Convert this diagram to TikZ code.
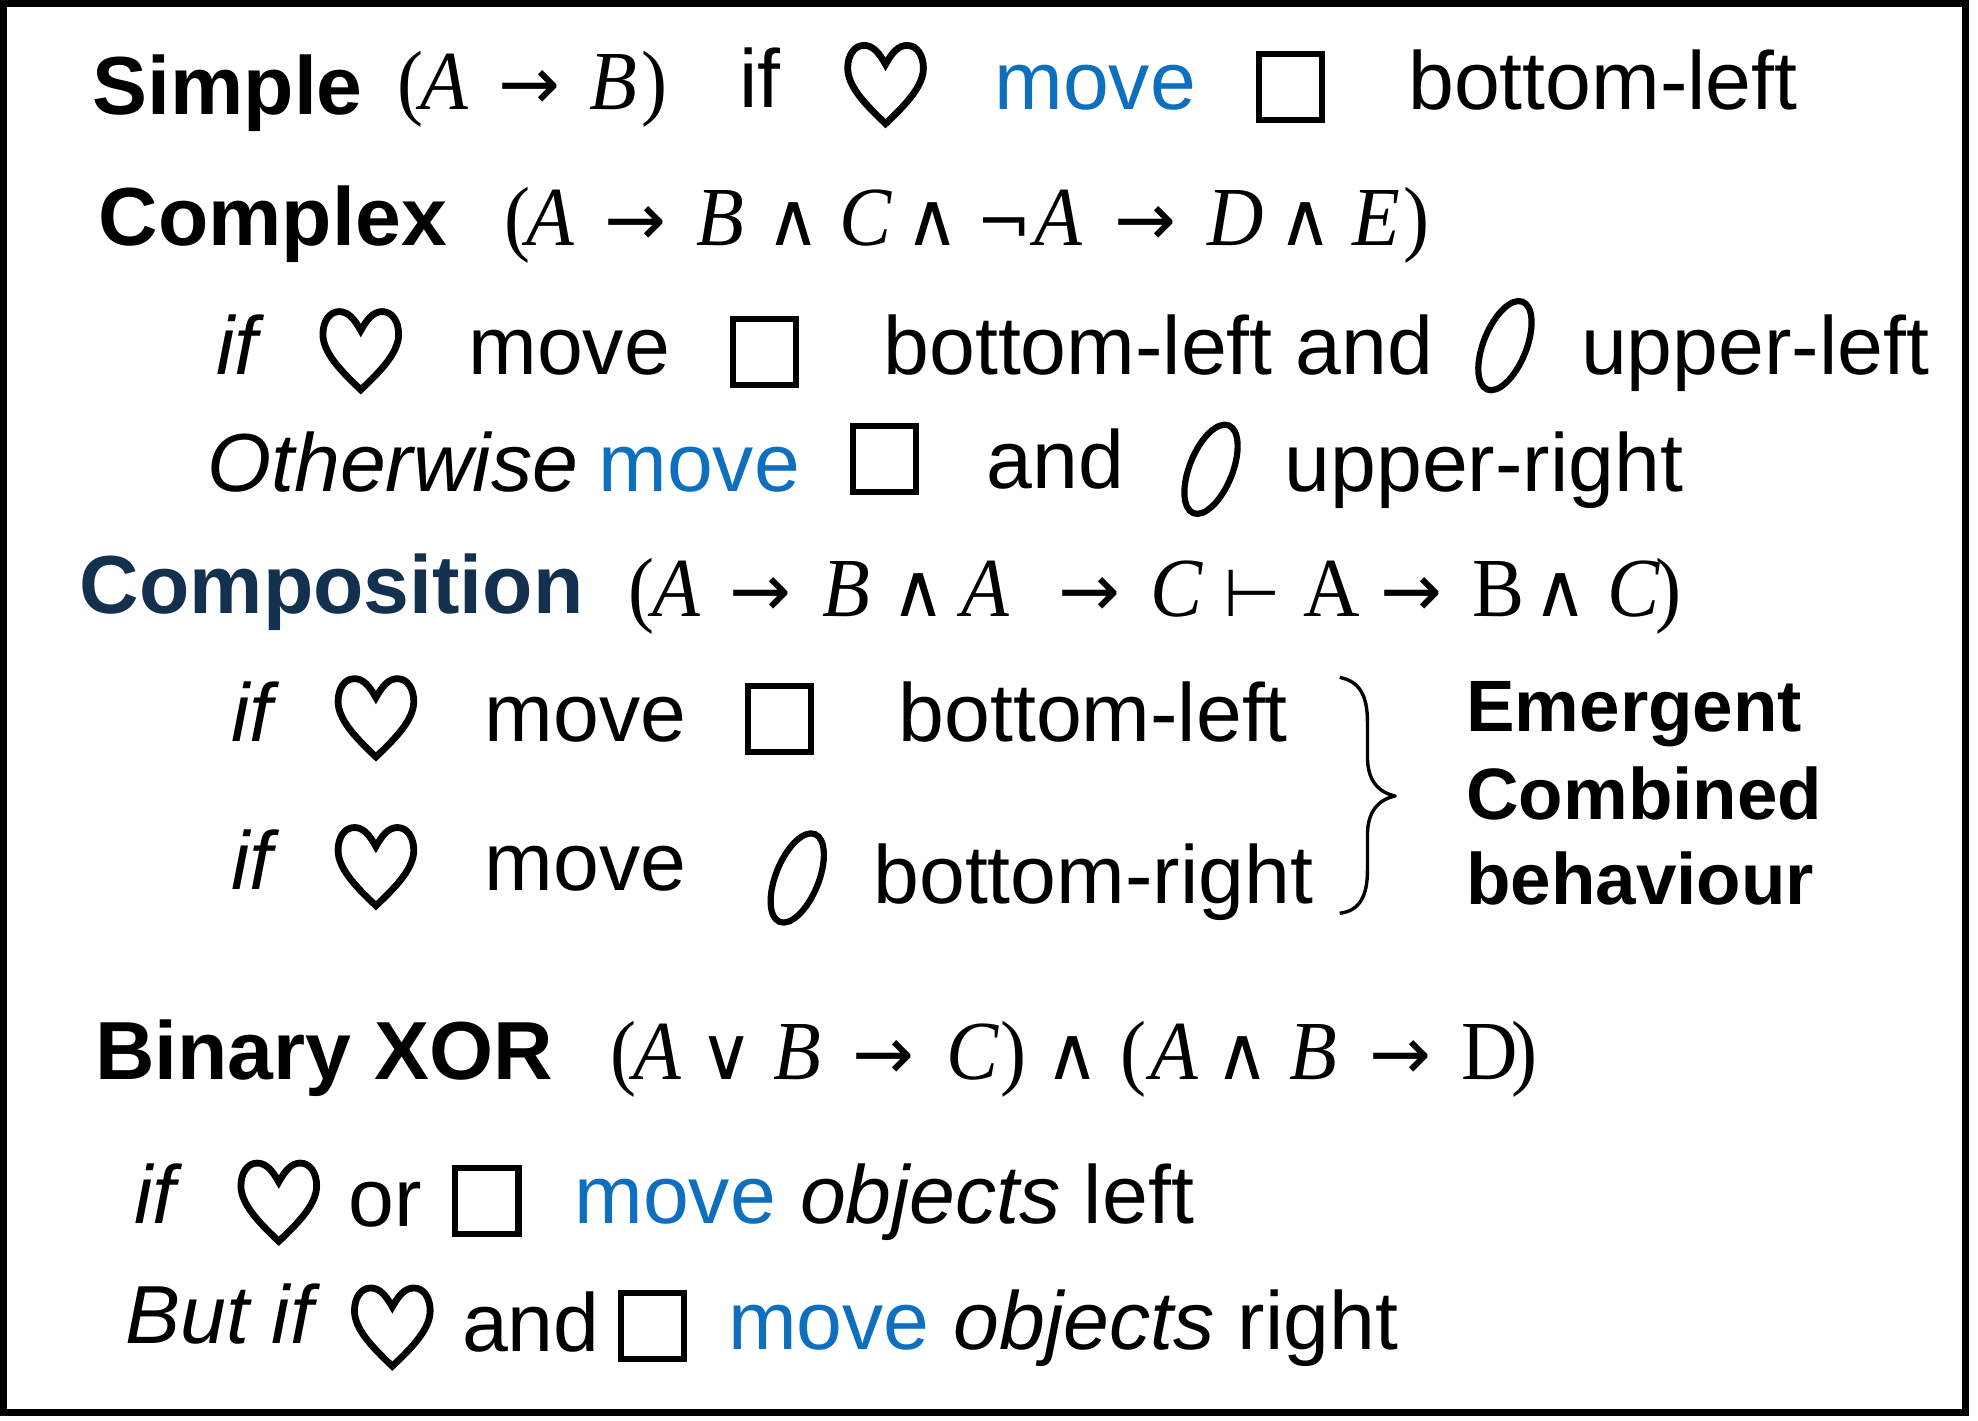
\documentclass[tikz,border=0pt]{standalone}
\usepackage{fontspec}
\setmainfont{Liberation Sans}
\newfontfamily\serifmath[FakeStretch=0.93]{Liberation Serif}
\newfontfamily\symfont{DejaVu Sans}
\definecolor{moveblue}{HTML}{0F6FBF}
\definecolor{navy}{HTML}{14304F}
\newcommand{\bigsize}{\fontsize{41.2}{48}\selectfont}
\newcommand{\boldhead}{\fontsize{41.2}{48}\selectfont\bfseries}
\newcommand{\boldside}{\fontsize{36.4}{42}\selectfont\bfseries}
\newcommand{\mathsize}{\fontsize{42}{48}\selectfont}
\tikzset{
  txt/.style={anchor=base west,inner sep=0pt,font=\bigsize,xshift=-0.6pt},
  head/.style={anchor=base west,inner sep=0pt,font=\boldhead,xshift=-0.6pt},
  side/.style={anchor=base west,inner sep=0pt,font=\boldside,xshift=-0.6pt},
  ml/.style={anchor=base west,inner sep=0pt,font=\mathsize\serifmath\itshape},
  mr/.style={anchor=base west,inner sep=0pt,font=\mathsize\serifmath},
  sy/.style={anchor=base,inner sep=0pt,font=\fontsize{37}{42}\selectfont\symfont},
  sn/.style={anchor=base,inner sep=0pt,font=\fontsize{33}{40}\selectfont\symfont},
  glyph/.style={draw=black,line width=3.1pt,fill=none,line join=miter},
}
\newcommand{\hrt}[2]{%
  \draw[glyph,line width=3.4pt,shift={(#1,#2)}] (0,18) .. controls (-5,9) and (-10,3) .. (-17,3)
    .. controls (-25,3) and (-30,11) .. (-30,21)
    .. controls (-30,35) and (-17,49) .. (0,65)
    .. controls (17,49) and (30,35) .. (30,21)
    .. controls (30,11) and (25,3) .. (17,3)
    .. controls (10,3) and (5,9) .. (0,18) -- cycle;}
\newcommand{\sq}[2]{\draw[glyph] (#1,#2) rectangle ++(50,52);}
\newcommand{\ovl}[2]{\draw[glyph] (#1,#2) ellipse [x radius=17,y radius=37.5,rotate=-22];}
\begin{document}
\begin{tikzpicture}[x=0.63075pt,y=-0.63075pt]
\useasboundingbox (0,0) rectangle (1568,1126);
\draw[line width=3.4pt,black] (2.7,2.7) rectangle (1558.1,1119.8);
% row 1
\node[head] (simple) at (74,91) {Simple};
\node[mr] (r1a) at (315,87) {(};
\node[ml] (r1b) at (333,87) {A};
\node[sy] (r1c) at (420,87) {→};
\node[ml] (r1d) at (467,87) {B};
\node[mr] (r1e) at (508,87) {)};
\node[txt] (r1f) at (587,85) {if};
\hrt{702}{33}
\node[txt,text=moveblue] (r1g) at (789,87) {move};
\sq{998}{43}
\node[txt] (r1h) at (1117,87) {bottom-left};
% row 2
\node[head] (complex) at (79,195) {Complex};
\node[mr] (r2a) at (400,195) {(};
\node[ml] (r2b) at (417,195) {A};
\node[sy] (r2c) at (504,195) {→};
\node[ml] (r2d) at (552,195) {B};
\node[sy] (r2e) at (629,195) {∧};
\node[ml] (r2f) at (665,195) {C};
\node[sy] (r2g) at (739,195) {∧};
\node[sn] (r2h) at (796,195) {¬};
\node[ml] (r2i) at (820,195) {A};
\node[sy] (r2j) at (908,195) {→};
\node[ml] (r2k) at (957,195) {D};
\node[sy] (r2l) at (1035,195) {∧};
\node[ml] (r2m) at (1072,195) {E};
\node[mr] (r2n) at (1112,195) {)};
% row 3
\node[txt,font=\bigsize\itshape] (r3a) at (172,297) {if};
\hrt{286}{244}
\node[txt] (r3b) at (372,297) {move};
\sq{581}{253}
\node[txt] (r3c) at (701,297) {bottom-left and};
\ovl{1193}{274}
\node[txt] (r3d) at (1254,297) {upper-left};
% row 4
\node[txt,font=\bigsize\itshape] (r4a) at (165,390) {Otherwise};
\node[txt,text=moveblue] (r4b) at (475,390) {move};
\sq{676}{338}
\node[txt] (r4c) at (783,387) {and};
\ovl{960}{372}
\node[txt] (r4d) at (1019,390) {upper-right};
% row 5
\node[head,text=navy] (comp) at (64,486) {Composition};
\node[mr] (r5a) at (498,489) {(};
\node[ml] (r5b) at (517,489) {A};
\node[sy] (r5c) at (603,489) {→};
\node[ml] (r5d) at (652,489) {B};
\node[sy] (r5e) at (728,489) {∧};
\node[ml] (r5f) at (762,489) {A};
\node[sy] (r5g) at (864,489) {→};
\node[ml] (r5h) at (912,489) {C};
\node[sn] (r5i) at (993,489) {⊢};
\node[mr] (r5j) at (1033,489) {A};
\node[sy] (r5k) at (1119,489) {→};
\node[mr] (r5l) at (1167,489) {B};
\node[sy] (r5m) at (1237,489) {∧};
\node[ml] (r5n) at (1274,489) {C};
\node[mr] (r5o) at (1312,489) {)};
% row 6
\node[txt,font=\bigsize\itshape] (r6a) at (184,588) {if};
\hrt{298}{535}
\node[txt] (r6b) at (385,588) {move};
\sq{593}{544}
\node[txt] (r6c) at (713,588) {bottom-left};
% row 7
\node[txt,font=\bigsize\itshape] (r7a) at (184,705) {if};
\hrt{298}{653}
\node[txt] (r7b) at (385,706) {move};
\ovl{632}{696}
\node[txt] (r7c) at (693,716) {bottom-right};
% brace
\coordinate (bt) at (1062,537);
\coordinate (bm) at (1106,631);
\coordinate (bb) at (1062,724);
\draw[line width=1.7pt,black,line join=round] (bt) .. controls (1078,540) and (1084,552) .. (1084,572)
  -- (1084,600) .. controls (1084,618) and (1092,628) .. (bm)
  .. controls (1092,634) and (1084,644) .. (1084,662)
  -- (1084,690) .. controls (1084,710) and (1078,722) .. (bb);
\node[side] (e1) at (1163,580) {Emergent};
\node[side] (e2) at (1163,650) {Combined};
\node[side] (e3) at (1163,717) {behaviour};
% row 8
\node[head] (xor) at (76,856) {Binary XOR};
\node[mr] (r8a) at (484,856) {(};
\node[ml] (r8b) at (502,856) {A};
\node[sy] (r8c) at (576,856) {∨};
\node[ml] (r8d) at (613,856) {B};
\node[sy] (r8e) at (700,856) {→};
\node[ml] (r8f) at (750,856) {C};
\node[mr] (r8g) at (793,856) {)};
\node[sy] (r8h) at (850,856) {∧};
\node[mr] (r8i) at (888,856) {(};
\node[ml] (r8j) at (912,856) {A};
\node[sy] (r8k) at (985,856) {∧};
\node[ml] (r8l) at (1022,856) {B};
\node[sy] (r8m) at (1110,856) {→};
\node[mr] (r8n) at (1158,856) {D};
\node[mr] (r8o) at (1198,856) {)};
% row 9
\node[txt,font=\bigsize\itshape] (r9a) at (107,970) {if};
\hrt{221}{919}
\node[txt] (r9b) at (277,972) {or};
\sq{361}{926}
\node[txt] (r9c) at (456,970) {\textcolor{moveblue}{move}\hspace{0.6pt} \textit{objects} left};
% row 10
\node[txt,font=\bigsize\itshape] (r10a) at (100,1065) {But if};
\hrt{311}{1018}
\node[txt] (r10b) at (367,1071) {and};
\sq{492}{1025}
\node[txt] (r10c) at (578,1070) {\textcolor{moveblue}{move}\hspace{0.6pt} \textit{objects} right};
\end{tikzpicture}
\end{document}
